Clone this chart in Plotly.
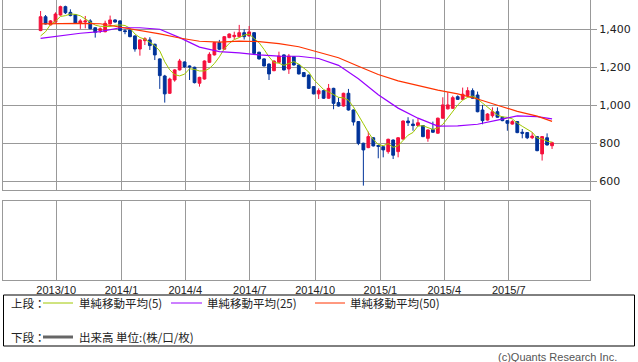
import plotly.graph_objects as go
import pandas as pd

# ---------------- data ----------------
dates = pd.date_range('2013-09-09', periods=104, freq='7D')

opens = [1393, 1466, 1423, 1438, 1475, 1519, 1489, 1477, 1432, 1438,
         1444, 1408, 1393, 1387, 1428, 1449, 1444, 1392, 1396, 1365,
         1296, 1340, 1344, 1321, 1244, 1154, 1063, 1133, 1186, 1228,
         1207, 1200, 1116, 1138, 1226, 1265, 1330, 1295, 1356, 1361,
         1361, 1382, 1365, 1382, 1279, 1244, 1217, 1182, 1226, 1265,
         1191, 1256, 1212, 1172, 1159, 1098, 1060, 1077, 1037, 1089,
         1014, 996, 1063, 975, 914, 800, 777, 829, 788, 782,
         756, 817, 756, 822, 917, 901, 893, 893, 826, 873,
         853, 932, 981, 984, 1045, 1031, 1051, 1077, 1054, 975,
         922, 945, 966, 937, 919, 901, 914, 858, 856, 829,
         835, 744, 829, 787]
closes = [1466, 1428, 1444, 1480, 1519, 1487, 1472, 1433, 1444, 1444,
          1403, 1384, 1403, 1431, 1449, 1438, 1393, 1388, 1361, 1296,
          1344, 1350, 1314, 1265, 1156, 1060, 1138, 1186, 1233, 1202,
          1202, 1119, 1147, 1233, 1268, 1330, 1295, 1361, 1375, 1368,
          1382, 1361, 1386, 1273, 1244, 1207, 1165, 1233, 1259, 1186,
          1259, 1212, 1165, 1151, 1089, 1060, 1077, 1037, 1089, 1010,
          996, 1063, 975, 912, 800, 765, 835, 786, 784, 765,
          821, 737, 829, 917, 908, 893, 908, 835, 870, 858,
          932, 1002, 1002, 1040, 1031, 1058, 1077, 1037, 966, 919,
          954, 966, 937, 919, 905, 914, 856, 853, 829, 838,
          761, 835, 791, 803]
highs = [1496, 1475, 1448, 1489, 1524, 1524, 1505, 1480, 1453, 1470,
         1453, 1410, 1410, 1445, 1472, 1452, 1447, 1400, 1398, 1368,
         1347, 1358, 1358, 1324, 1247, 1160, 1145, 1190, 1244, 1231,
         1210, 1203, 1150, 1236, 1279, 1333, 1344, 1364, 1378, 1387,
         1423, 1400, 1417, 1385, 1282, 1247, 1220, 1236, 1282, 1268,
         1270, 1259, 1215, 1175, 1162, 1101, 1089, 1080, 1112, 1092,
         1040, 1066, 1086, 978, 917, 803, 861, 832, 792, 785,
         824, 820, 832, 920, 937, 926, 932, 896, 873, 914,
         935, 1042, 1068, 1050, 1052, 1093, 1095, 1089, 1072, 1002,
         958, 989, 989, 940, 922, 922, 917, 875, 859, 858,
         838, 838, 852, 808]
lows = [1390, 1425, 1420, 1435, 1472, 1480, 1468, 1430, 1402, 1405,
        1400, 1356, 1380, 1384, 1425, 1435, 1390, 1374, 1358, 1282,
        1261, 1317, 1291, 1238, 1086, 1014, 1060, 1124, 1183, 1198,
        1133, 1115, 1098, 1135, 1223, 1262, 1290, 1292, 1353, 1347,
        1358, 1346, 1362, 1265, 1240, 1204, 1133, 1179, 1223, 1183,
        1165, 1209, 1162, 1148, 1086, 1057, 1033, 1033, 1034, 979,
        993, 993, 972, 893, 790, 577, 774, 783, 721, 726,
        745, 717, 726, 819, 891, 866, 890, 832, 808, 855,
        850, 929, 978, 981, 1028, 1028, 1048, 1034, 963, 900,
        919, 935, 934, 916, 866, 898, 853, 826, 822, 822,
        758, 709, 788, 770]
# closes of the four weeks before the first visible candle (for the 5-week average)
prior_closes = [1318, 1254, 1394, 1393]

# 25- and 50-week moving averages, read at every 4th candle
ma_idx = [0, 4, 8, 12, 16, 20, 24, 28, 32, 36, 40, 44, 48, 52,
          56, 60, 64, 68, 72, 76, 80, 84, 88, 92, 96, 100, 103]
ma25 = [1352, 1366, 1379, 1388, 1408, 1408, 1400, 1356, 1306, 1282,
        1276, 1265, 1259, 1258, 1246, 1210, 1140, 1055, 985, 932,
        890, 892, 900, 922, 944, 940, 928]
ma50 = [1428, 1431, 1431, 1429, 1412, 1396, 1376, 1354, 1337, 1332,
        1338, 1335, 1324, 1308, 1280, 1250, 1205, 1162, 1128, 1102,
        1080, 1060, 1033, 1000, 968, 943, 915]

ytick_vals = [600, 800, 1000, 1200, 1400]
ytick_text = ['600', '800', '1,000', '1,200', '1,400']
xtick_dates = ['2013-10-01', '2014-01-01', '2014-04-01', '2014-07-01',
               '2014-10-01', '2015-01-01', '2015-04-01', '2015-07-01']
xtick_text = ['2013/10', '2014/1', '2014/4', '2014/7',
              '2014/10', '2015/1', '2015/4', '2015/7']

legend_upper = ['単純移動平均(5)', '単純移動平均(25)', '単純移動平均(50)']
legend_lower = '出来高 単位:(株/口/枚)'

# ---------------- styling ----------------
W, H = 638, 362
ML, MR, MT, MB = 3, 48, 0, 82
PW, PH = W - ML - MR, H - MT - MB
RED = '#f5103c'
BLUE = '#003399'
C5, C25, C50 = '#a0c800', '#9900ff', '#ff3300'
GRID = '#999999'
x_range = ['2013-07-18', '2015-10-23 12:00']


def px(x):
    return (x - ML) / PW


def py(y):
    return (H - MB - y) / PH


ma5 = pd.Series(prior_closes + closes).rolling(5).mean().iloc[4:].tolist()
ma_dates = [dates[i] for i in ma_idx]

fig = go.Figure()
fig.add_trace(go.Candlestick(
    x=dates, open=opens, high=highs, low=lows, close=closes,
    increasing=dict(line=dict(color=RED, width=1), fillcolor=RED),
    decreasing=dict(line=dict(color=BLUE, width=1), fillcolor=BLUE),
    whiskerwidth=0, xaxis='x', yaxis='y', showlegend=False, hoverinfo='skip'))
fig.add_trace(go.Scatter(x=dates, y=ma5, mode='lines', line=dict(color=C5, width=1),
                         xaxis='x', yaxis='y', showlegend=False, hoverinfo='skip'))
fig.add_trace(go.Scatter(x=ma_dates, y=ma25, mode='lines', line=dict(color=C25, width=1.2),
                         xaxis='x', yaxis='y', showlegend=False, hoverinfo='skip'))
fig.add_trace(go.Scatter(x=ma_dates, y=ma50, mode='lines', line=dict(color=C50, width=1.2),
                         xaxis='x', yaxis='y', showlegend=False, hoverinfo='skip'))
# empty volume panel
fig.add_trace(go.Scatter(x=[], y=[], xaxis='x2', yaxis='y2', showlegend=False))

axis_common = dict(showgrid=True, gridcolor=GRID, gridwidth=1, showline=True,
                   linecolor=GRID, linewidth=1, mirror=True, zeroline=False)

upper_bottom = py(190)
lower_top = py(201)

fig.update_layout(
    width=W, height=H,
    margin=dict(l=ML, r=MR, t=MT, b=MB, pad=0),
    paper_bgcolor='white', plot_bgcolor='white',
    showlegend=False, boxgap=0.2,
    xaxis=dict(domain=[0, 1], anchor='y', type='date', range=x_range,
               tickvals=xtick_dates, ticktext=xtick_text, showticklabels=False,
               ticks='', rangeslider=dict(visible=False), **axis_common),
    yaxis=dict(domain=[upper_bottom, 1], anchor='x', side='right', range=[554, 1554],
               tickvals=ytick_vals, ticktext=ytick_text, ticks='outside', ticklen=6,
               tickcolor=GRID, tickfont=dict(family='DejaVu Sans', size=11, color='#222222'),
               **axis_common),
    xaxis2=dict(domain=[0, 1], anchor='y2', type='date', range=x_range,
                tickvals=xtick_dates, ticktext=xtick_text, ticks='',
                tickfont=dict(family='Liberation Sans', size=11, color='#222222'),
                **axis_common),
    yaxis2=dict(domain=[0, lower_top], anchor='x2', range=[0, 1], showgrid=False,
                showticklabels=False, ticks='', showline=True, linecolor=GRID,
                linewidth=1, mirror=True, zeroline=False),
)

shapes = [
    dict(type='rect', xref='paper', yref='paper', x0=px(3.5), x1=px(634.5),
         y0=py(295), y1=py(346), line=dict(color='black', width=1)),
    dict(type='line', xref='paper', yref='paper', x0=px(43), x1=px(73),
         y0=py(303), y1=py(303), line=dict(color=C5, width=1)),
    dict(type='line', xref='paper', yref='paper', x0=px(171), x1=px(202),
         y0=py(303), y1=py(303), line=dict(color=C25, width=1)),
    dict(type='line', xref='paper', yref='paper', x0=px(315), x1=px(345),
         y0=py(303), y1=py(303), line=dict(color=C50, width=1)),
    dict(type='line', xref='paper', yref='paper', x0=px(43), x1=px(73),
         y0=py(337), y1=py(337), line=dict(color='#666666', width=3)),
]
fig.update_layout(shapes=shapes)

jp = dict(family='Noto Sans CJK JP', size=11.5, color='#222222')


def txt(x, y, s, anchor='left', font=jp):
    fig.add_annotation(x=px(x), y=py(y), xref='paper', yref='paper', text=s,
                       showarrow=False, xanchor=anchor, yanchor='middle',
                       font=font, borderpad=0)


txt(10, 303, '上段：')
txt(78, 303, legend_upper[0])
txt(206, 303, legend_upper[1])
txt(349, 303, legend_upper[2])
txt(10, 337, '下段：')
txt(78, 337, legend_lower)
txt(618, 357, '(c)Quants Research Inc.', anchor='right',
    font=dict(family='Liberation Sans', size=11, color='#555555'))

fig.write_html('out.html', config={'displayModeBar': False},
               post_script="document.body.style.margin='0';document.body.style.overflow='hidden';")
